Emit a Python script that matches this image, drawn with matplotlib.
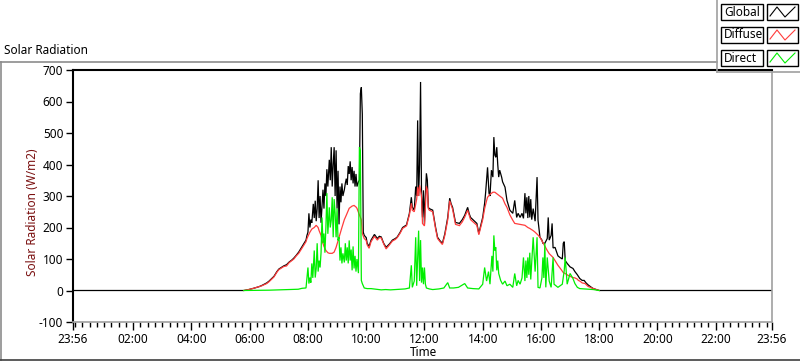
import matplotlib
matplotlib.use('Agg')
import matplotlib.pyplot as plt
from matplotlib.patches import Rectangle
from matplotlib.lines import Line2D

plt.rcParams['font.family'] = ['Noto Sans', 'DejaVu Sans']

# time axis runs from 23:56 (previous day) to 23:56
day_start = -4 / 60
day_end = 23 + 56 / 60

y_ticks = [-100, 0, 100, 200, 300, 400, 500, 600, 700]
x_tick_labels = ['23:56', '02:00', '04:00', '06:00', '08:00', '10:00', '12:00',
                 '14:00', '16:00', '18:00', '20:00', '22:00', '23:56']
series_names = ['Global', 'Diffuse', 'Direct']

# (time, W/m2)
global_pts = [
    ('05:48', 0), ('05:58', 3), ('06:08', 7), ('06:19', 12), ('06:25', 16), ('06:35', 24),
    ('06:40', 30), ('06:50', 45), ('06:56', 60), ('07:00', 68), ('07:06', 74), ('07:10', 78),
    ('07:16', 82), ('07:21', 90), ('07:27', 97), ('07:31', 103), ('07:36', 112), ('07:41', 122),
    ('07:46', 135), ('07:52', 150), ('07:56', 160), ('07:58', 175), ('08:00', 185), ('08:02', 245),
    ('08:04', 200), ('08:06', 225), ('08:08', 215), ('08:11', 275), ('08:13', 230), ('08:15', 285),
    ('08:17', 220), ('08:19', 260), ('08:21', 350), ('08:23', 230), ('08:25', 300), ('08:27', 215),
    ('08:29', 270), ('08:31', 320), ('08:33', 260), ('08:35', 340), ('08:37', 300), ('08:39', 385),
    ('08:41', 330), ('08:44', 415), ('08:46', 350), ('08:48', 455), ('08:50', 330), ('08:52', 400),
    ('08:54', 455), ('08:56', 300), ('08:58', 445), ('09:00', 260), ('09:02', 380), ('09:04', 210),
    ('09:06', 330), ('09:08', 280), ('09:10', 340), ('09:12', 300), ('09:15', 320), ('09:17', 340),
    ('09:19', 355), ('09:21', 335), ('09:23', 395), ('09:25', 370), ('09:27', 410), ('09:29', 350),
    ('09:31', 392), ('09:33', 340), ('09:35', 380), ('09:37', 330), ('09:39', 370), ('09:41', 330),
    ('09:44', 345), ('09:46', 350), ('09:48', 625), ('09:50', 645), ('09:52', 560), ('09:54', 185),
    ('09:56', 175), ('10:00', 168), ('10:02', 150), ('10:06', 140), ('10:10', 160), ('10:17', 178),
    ('10:23', 165), ('10:27', 172), ('10:31', 170), ('10:36', 150), ('10:41', 137), ('10:48', 148),
    ('10:54', 160), ('11:00', 165), ('11:04', 170), ('11:10', 185), ('11:15', 200), ('11:23', 208),
    ('11:29', 245), ('11:33', 296), ('11:35', 265), ('11:39', 255), ('11:42', 330), ('11:44', 300),
    ('11:46', 540), ('11:48', 300), ('11:50', 400), ('11:52', 662), ('11:54', 300), ('11:56', 232),
    ('11:58', 318), ('12:00', 210), ('12:02', 300), ('12:04', 372), ('12:06', 350), ('12:08', 264),
    ('12:10', 260), ('12:17', 255), ('12:23', 200), ('12:27', 169), ('12:32', 158), ('12:37', 150),
    ('12:42', 180), ('12:48', 232), ('12:52', 293), ('12:55', 275), ('12:58', 264), ('13:04', 216),
    ('13:12', 213), ('13:18', 225), ('13:23', 239), ('13:29', 264), ('13:32', 245), ('13:35', 232),
    ('13:48', 213), ('13:52', 181), ('14:00', 232), ('14:04', 277), ('14:06', 310), ('14:08', 350),
    ('14:10', 391), ('14:13', 309), ('14:15', 300), ('14:18', 382), ('14:21', 360), ('14:23', 487),
    ('14:25', 430), ('14:27', 423), ('14:29', 455), ('14:31', 400), ('14:33', 360), ('14:35', 382),
    ('14:39', 360), ('14:41', 345), ('14:46', 328), ('14:50', 286), ('14:56', 255), ('15:02', 245),
    ('15:06', 286), ('15:10', 232), ('15:13', 245), ('15:17', 232), ('15:21', 245), ('15:24', 229),
    ('15:27', 309), ('15:29', 245), ('15:31', 296), ('15:33', 230), ('15:35', 300), ('15:37', 232),
    ('15:39', 290), ('15:41', 225), ('15:44', 260), ('15:48', 220), ('15:52', 360), ('15:54', 223),
    ('15:58', 169), ('16:02', 160), ('16:04', 150), ('16:08', 150), ('16:13', 165), ('16:15', 232),
    ('16:17', 160), ('16:21', 175), ('16:23', 213), ('16:25', 135), ('16:29', 137), ('16:35', 110),
    ('16:39', 105), ('16:44', 100), ('16:46', 150), ('16:48', 155), ('16:50', 95), ('16:54', 86),
    ('17:00', 75), ('17:06', 70), ('17:10', 60), ('17:15', 50), ('17:20', 38), ('17:25', 32),
    ('17:29', 32), ('17:33', 24), ('17:37', 18), ('17:44', 10), ('17:48', 6), ('18:00', 0),
]

diffuse_pts = [
    ('05:48', 0), ('05:58', 3), ('06:08', 7), ('06:19', 12), ('06:25', 15), ('06:35', 22),
    ('06:40', 28), ('06:50', 43), ('06:56', 58), ('07:00', 66), ('07:06', 72), ('07:10', 76),
    ('07:16', 78), ('07:21', 88), ('07:27', 95), ('07:31', 100), ('07:36', 110), ('07:41', 118),
    ('07:46', 130), ('07:52', 145), ('07:56', 155), ('07:58', 165), ('08:00', 172), ('08:04', 185),
    ('08:08', 195), ('08:13', 200), ('08:17', 207), ('08:21', 200), ('08:23', 190), ('08:27', 175),
    ('08:29', 159), ('08:33', 140), ('08:37', 127), ('08:41', 120), ('08:44', 118), ('08:50', 118),
    ('08:54', 122), ('08:58', 137), ('09:04', 169), ('09:10', 200), ('09:15', 225), ('09:19', 239),
    ('09:25', 261), ('09:31', 268), ('09:35', 270), ('09:39', 265), ('09:41', 261), ('09:46', 240),
    ('09:50', 225), ('09:52', 181), ('09:56', 165), ('10:00', 159), ('10:02', 145), ('10:06', 134),
    ('10:10', 155), ('10:17', 172), ('10:23', 160), ('10:27', 168), ('10:31', 167), ('10:36', 148),
    ('10:41', 132), ('10:48', 145), ('10:54', 157), ('11:00', 162), ('11:04', 168), ('11:10', 182),
    ('11:15', 197), ('11:23', 205), ('11:29', 240), ('11:33', 277), ('11:35', 255), ('11:39', 250),
    ('11:44', 290), ('11:46', 328), ('11:48', 300), ('11:50', 334), ('11:54', 300), ('11:56', 213),
    ('12:00', 205), ('12:04', 330), ('12:06', 320), ('12:08', 260), ('12:10', 255), ('12:17', 250),
    ('12:23', 195), ('12:27', 165), ('12:32', 155), ('12:37', 146), ('12:42', 175), ('12:48', 225),
    ('12:52', 285), ('12:58', 258), ('13:04', 210), ('13:12', 206), ('13:18', 218), ('13:23', 233),
    ('13:29', 255), ('13:35', 225), ('13:48', 207), ('13:52', 177), ('14:00', 225), ('14:04', 260),
    ('14:08', 285), ('14:10', 296), ('14:15', 305), ('14:21', 312), ('14:25', 312), ('14:31', 305),
    ('14:35', 300), ('14:41', 293), ('14:46', 275), ('14:50', 264), ('14:56', 240), ('15:02', 223),
    ('15:06', 213), ('15:13', 211), ('15:17', 210), ('15:21', 209), ('15:27', 207), ('15:33', 200),
    ('15:37', 197), ('15:44', 190), ('15:48', 185), ('15:54', 176), ('15:58', 169), ('16:04', 152),
    ('16:08', 140), ('16:13', 127), ('16:17', 117), ('16:25', 105), ('16:29', 95), ('16:35', 80),
    ('16:40', 70), ('16:46', 57), ('16:52', 52), ('16:56', 48), ('17:00', 45), ('17:06', 41),
    ('17:10', 40), ('17:15', 36), ('17:17', 32), ('17:20', 30), ('17:25', 24), ('17:31', 22),
    ('17:37', 13), ('17:48', 6), ('18:00', 0),
]

direct_pts = [
    ('05:48', 0), ('06:40', 1), ('07:00', 2), ('07:20', 3), ('07:40', 4), ('07:48', 7),
    ('07:56', 8), ('08:00', 73), ('08:02', 22), ('08:04', 41), ('08:06', 25), ('08:08', 86),
    ('08:10', 40), ('08:13', 127), ('08:15', 41), ('08:17', 70), ('08:19', 150), ('08:21', 60),
    ('08:23', 95), ('08:25', 73), ('08:27', 120), ('08:29', 232), ('08:31', 150), ('08:33', 181),
    ('08:35', 120), ('08:37', 200), ('08:39', 309), ('08:41', 180), ('08:44', 264), ('08:46', 200),
    ('08:48', 223), ('08:50', 296), ('08:52', 169), ('08:54', 290), ('08:56', 245), ('08:58', 169),
    ('09:00', 260), ('09:02', 159), ('09:04', 169), ('09:06', 95), ('09:08', 137), ('09:10', 86),
    ('09:12', 118), ('09:15', 89), ('09:17', 150), ('09:19', 95), ('09:21', 137), ('09:23', 86),
    ('09:25', 159), ('09:27', 95), ('09:29', 130), ('09:31', 64), ('09:33', 140), ('09:35', 70),
    ('09:37', 110), ('09:39', 60), ('09:41', 100), ('09:44', 55), ('09:46', 455), ('09:48', 445),
    ('09:50', 32), ('09:52', 22), ('09:56', 8), ('10:02', 6), ('10:10', 6), ('10:20', 4),
    ('10:31', 2), ('10:40', 3), ('10:50', 2), ('11:00', 3), ('11:10', 4), ('11:20', 5),
    ('11:29', 8), ('11:33', 80), ('11:35', 10), ('11:39', 30), ('11:42', 169), ('11:44', 15),
    ('11:46', 100), ('11:48', 190), ('11:50', 30), ('11:52', 160), ('11:54', 25), ('11:56', 73),
    ('11:58', 20), ('12:00', 73), ('12:02', 20), ('12:04', 8), ('12:10', 5), ('12:17', 3),
    ('12:30', 5), ('12:40', 8), ('12:48', 25), ('12:52', 8), ('13:00', 8), ('13:10', 10),
    ('13:23', 22), ('13:29', 8), ('13:40', 6), ('13:52', 5), ('14:00', 20), ('14:04', 73),
    ('14:08', 30), ('14:12', 60), ('14:15', 20), ('14:19', 110), ('14:21', 60), ('14:23', 175),
    ('14:25', 127), ('14:27', 137), ('14:29', 64), ('14:31', 95), ('14:33', 54), ('14:37', 32),
    ('14:41', 20), ('14:46', 30), ('14:50', 15), ('14:56', 20), ('15:02', 10), ('15:06', 54),
    ('15:10', 15), ('15:13', 32), ('15:17', 20), ('15:21', 40), ('15:24', 105), ('15:27', 30),
    ('15:29', 95), ('15:31', 40), ('15:33', 105), ('15:35', 50), ('15:37', 120), ('15:39', 35),
    ('15:44', 169), ('15:48', 60), ('15:52', 169), ('15:54', 10), ('15:58', 8), ('16:02', 40),
    ('16:04', 105), ('16:06', 40), ('16:08', 150), ('16:10', 10), ('16:13', 105), ('16:17', 30),
    ('16:21', 10), ('16:25', 105), ('16:27', 20), ('16:35', 10), ('16:44', 20), ('16:48', 64),
    ('16:50', 105), ('16:52', 60), ('16:54', 20), ('17:00', 54), ('17:06', 38), ('17:10', 22),
    ('17:15', 10), ('17:20', 6), ('17:30', 5), ('17:48', 3), ('18:00', 0),
]

colors = ['#000000', '#ff3c3c', '#00ee00']


def hours(s):
    h, m = s.split(':')
    return int(h) + int(m) / 60


def series(pts, pad):
    t = [hours(p[0]) for p in pts]
    v = [p[1] for p in pts]
    if pad:
        # global reading is logged all day long, zero at night
        t = [day_start] + t + [day_end]
        v = [0] + v + [0]
    return t, v


W, H = 800, 361
fig = plt.figure(figsize=(W / 100, H / 100), dpi=100)


def fx(x):
    return x / W


def fy(y):
    return 1 - y / H


ax = fig.add_axes([fx(73), fy(322), fx(772) - fx(73), fy(70) - fy(322)])

for i, (pts, c) in enumerate(zip([global_pts, diffuse_pts, direct_pts], colors)):
    t, v = series(pts, i == 0)
    ax.plot(t, v, color=c, lw=0.9, solid_joinstyle='miter')

ax.set_xlim(day_start, day_end)
ax.set_ylim(-100, 700)
ax.set_yticks(y_ticks)
ax.set_yticklabels([str(v) for v in y_ticks])
major_x = [day_start] + list(range(2, 23, 2)) + [day_end]
ax.set_xticks(major_x)
ax.set_xticklabels(x_tick_labels)
ax.set_xticks([q / 4 for q in range(0, 96)], minor=True)

ax.tick_params(axis='both', which='major', labelsize=8.5, colors='black', direction='out', width=1)
ax.tick_params(axis='y', length=5, pad=2)
ax.tick_params(axis='x', which='major', length=6, pad=2)
ax.tick_params(axis='x', which='minor', length=3.5, width=1)

ax.spines['left'].set_color('black')
ax.spines['top'].set_color('black')
ax.spines['left'].set_linewidth(1.5)
ax.spines['top'].set_linewidth(1.5)
ax.spines['right'].set_color('#a0a0a0')
ax.spines['bottom'].set_color('#a0a0a0')
ax.spines['right'].set_linewidth(1.2)
ax.spines['bottom'].set_linewidth(1.2)

# outer frame of the graph
fig.add_artist(Line2D([fx(0), fx(717)], [fy(61.5), fy(61.5)], color='#8c8c8c', lw=1.2))
fig.add_artist(Line2D([fx(1), fx(1)], [fy(61.5), fy(360)], color='#8c8c8c', lw=1.2))
fig.add_artist(Line2D([fx(0), fx(800)], [fy(359.5), fy(359.5)], color='#404040', lw=1.2))

fig.text(fx(4), fy(51), 'Solar Radiation', fontsize=8.5, ha='left', va='center')
fig.text(fx(33), fy(212), 'Solar Radiation (W/m2)', fontsize=8.5, rotation=90,
         ha='center', va='center', color='#7a1010')
fig.text(fx(423), fy(353), 'Time', fontsize=8.5, ha='center', va='center')

# legend panel
fig.add_artist(Line2D([fx(717), fx(717)], [fy(0), fy(72)], color='#a0a0a0', lw=1.2))
fig.add_artist(Line2D([fx(717), fx(800)], [fy(72), fy(72)], color='#a0a0a0', lw=1.2))
row_y = [12, 35, 58]
for name, c, ry in zip(series_names, colors, row_y):
    fig.add_artist(Rectangle((fx(721), fy(ry + 8)), fx(763) - fx(721), fy(ry - 8) - fy(ry + 8),
                             fill=False, edgecolor='black', lw=1.0, transform=fig.transFigure))
    fig.text(fx(724), fy(ry), name, fontsize=8.5, ha='left', va='center')
    fig.add_artist(Rectangle((fx(767), fy(ry + 8)), fx(798) - fx(767), fy(ry - 8) - fy(ry + 8),
                             fill=False, edgecolor='black', lw=1.0, transform=fig.transFigure))
    zx = [770, 777, 785, 795]
    zy = [ry + 4, ry - 5, ry + 5, ry - 5]
    fig.add_artist(Line2D([fx(a) for a in zx], [fy(b) for b in zy], color=c, lw=0.8))

fig.savefig('out.png', dpi=100)
